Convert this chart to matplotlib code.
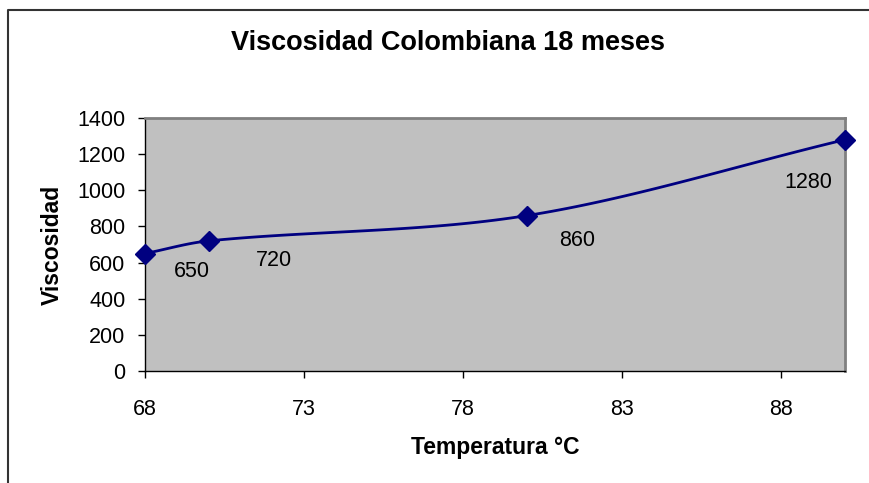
import numpy as np
import matplotlib
matplotlib.use("Agg")
import matplotlib.pyplot as plt
from matplotlib.lines import Line2D

# Data
temperatura = [68, 70, 80, 90]
viscosidad = [650, 720, 860, 1280]
etiquetas = ["650", "720", "860", "1280"]
x_ticks = [68, 73, 78, 83, 88]
y_ticks = [0, 200, 400, 600, 800, 1000, 1200, 1400]

# label offsets (pixels) relative to each point, as in the original
label_offsets = [(47, -18), (65, -20), (50, -25), (-37, -43)]

NAVY = "#000080"


def smooth_line(x, y, n=40):
    """Cubic Hermite curve through the points (like Excel's smoothed line)."""
    x = np.asarray(x, float)
    y = np.asarray(y, float)
    m = np.empty_like(y)
    m[0] = (y[1] - y[0]) / (x[1] - x[0])
    m[-1] = (y[-1] - y[-2]) / (x[-1] - x[-2])
    m[1:-1] = (y[2:] - y[:-2]) / (x[2:] - x[:-2])
    px, py = [x[0]], [y[0]]
    for i in range(len(x) - 1):
        h = x[i + 1] - x[i]
        t = np.linspace(0, 1, n)[1:]
        h00 = 2 * t ** 3 - 3 * t ** 2 + 1
        h10 = t ** 3 - 2 * t ** 2 + t
        h01 = -2 * t ** 3 + 3 * t ** 2
        h11 = t ** 3 - t ** 2
        px.extend(x[i] + t * h)
        py.extend(h00 * y[i] + h10 * h * m[i] + h01 * y[i + 1] + h11 * h * m[i + 1])
    return np.array(px), np.array(py)


plt.rcParams["font.family"] = ["Liberation Sans", "DejaVu Sans"]

fig = plt.figure(figsize=(8.69, 4.83), dpi=100)
# chart frame: only top and left edges are visible in the original crop
fig.lines.append(Line2D([8 / 869, 8 / 869, 1], [0, 1 - 10 / 483, 1 - 10 / 483],
                        transform=fig.transFigure, color="#333333", linewidth=1.5))

ax = fig.add_axes([145 / 869, 1 - 371 / 483, 700 / 869, 253 / 483])
ax.set_facecolor("#c0c0c0")

sx, sy = smooth_line(temperatura, viscosidad)
ax.plot(sx, sy, color=NAVY, linewidth=2, zorder=3)
ax.plot(temperatura, viscosidad, linestyle="none", marker="D",
        markersize=10, color=NAVY, zorder=4, clip_on=False)

for xv, yv, lab, (dx, dy) in zip(temperatura, viscosidad, etiquetas, label_offsets):
    ax.annotate(lab, (xv, yv), xytext=(dx, dy), textcoords="offset pixels",
                ha="center", va="center", fontsize=15.5, color="black")

ax.set_xlim(68, 90)
ax.set_ylim(0, 1400)
ax.set_xticks(x_ticks)
ax.set_yticks(y_ticks)
ax.tick_params(axis="both", labelsize=15.5, length=5, width=1, direction="out")
ax.tick_params(axis="x", pad=15)
ax.tick_params(axis="y", pad=9)

for side in ("left", "bottom"):
    ax.spines[side].set_color("black")
    ax.spines[side].set_linewidth(1)
for side in ("top", "right"):
    ax.spines[side].set_color("#808080")
    ax.spines[side].set_linewidth(2)

ax.set_xlabel("Temperatura °C", fontsize=16.5, fontweight="bold", labelpad=12)
ax.set_ylabel("Viscosidad", fontsize=16.5, fontweight="bold", labelpad=10)
fig.text(448 / 869, 1 - 43 / 483, "Viscosidad Colombiana 18 meses",
         ha="center", va="center", fontsize=19.5, fontweight="bold")

fig.savefig("out.png", dpi=100)
